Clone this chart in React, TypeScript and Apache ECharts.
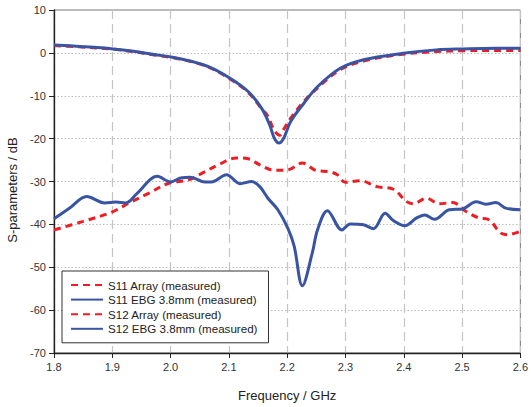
import React, { useEffect, useRef } from "react";
import * as echarts from "echarts";

// Frequency sweep (GHz) and measured levels (dB) for each trace
const s11ArrayFreq = [1.8, 1.844, 1.901, 1.94, 1.972, 2.003, 2.031, 2.065, 2.102, 2.133, 2.156, 2.166, 2.178, 2.187, 2.195, 2.206, 2.229, 2.252, 2.291, 2.331, 2.399, 2.456, 2.501, 2.558, 2.6];
const s11ArrayDb = [1.7, 1.4, 0.85, 0.2, -0.5, -1.1, -1.9, -3.3, -6.1, -9.2, -13.0, -14.6, -18.1, -19.2, -17.6, -15.2, -11.3, -8.2, -3.9, -1.9, -0.3, 0.3, 0.5, 0.55, 0.55];

const s11EbgFreq = [1.8, 1.844, 1.901, 1.94, 1.972, 2.003, 2.031, 2.065, 2.102, 2.133, 2.156, 2.17, 2.178, 2.186, 2.194, 2.206, 2.229, 2.252, 2.291, 2.331, 2.399, 2.456, 2.501, 2.558, 2.6];
const s11EbgDb = [1.85, 1.5, 0.93, 0.3, -0.4, -1.0, -1.8, -3.2, -5.9, -9.0, -12.9, -16.8, -19.9, -21.0, -19.9, -16.0, -11.7, -7.9, -3.6, -1.6, -0.1, 0.7, 0.93, 1.1, 1.1];

const s12ArrayFreq = [1.8, 1.85, 1.898, 1.929, 1.963, 1.997, 2.031, 2.059, 2.082, 2.113, 2.133, 2.153, 2.178, 2.201, 2.226, 2.249, 2.272, 2.286, 2.3, 2.325, 2.354, 2.382, 2.405, 2.416, 2.439, 2.461, 2.484, 2.507, 2.529, 2.546, 2.566, 2.578, 2.6];
const s12ArrayDb = [-41.3, -39.3, -37.2, -35.0, -32.7, -30.4, -29.6, -27.7, -26.1, -24.5, -24.7, -26.1, -27.4, -27.3, -25.7, -27.4, -27.7, -28.4, -30.2, -29.8, -31.2, -31.8, -34.7, -35.2, -33.9, -35.2, -34.9, -37.0, -38.5, -38.9, -42.0, -42.4, -41.6];

const s12EbgFreq = [1.8, 1.827, 1.856, 1.887, 1.906, 1.923, 1.943, 1.977, 2.0, 2.017, 2.034, 2.059, 2.07, 2.096, 2.119, 2.139, 2.153, 2.167, 2.184, 2.201, 2.212, 2.226, 2.243, 2.252, 2.269, 2.294, 2.308, 2.331, 2.348, 2.368, 2.382, 2.402, 2.422, 2.436, 2.453, 2.478, 2.501, 2.524, 2.541, 2.558, 2.575, 2.6];
const s12EbgDb = [-38.7, -36.2, -33.5, -35.0, -34.8, -35.0, -32.7, -28.8, -30.1, -29.2, -29.0, -30.1, -30.1, -28.4, -30.5, -30.0, -31.2, -33.9, -36.6, -40.9, -45.1, -54.3, -46.7, -41.3, -36.8, -41.3, -39.9, -40.1, -41.0, -37.4, -39.1, -40.3, -38.5, -37.8, -38.8, -36.6, -36.4, -34.7, -35.3, -34.9, -36.2, -36.6];

const legendNames = [
  "S11 Array (measured)",
  "S11 EBG 3.8mm (measured)",
  "S12 Array (measured)",
  "S12 EBG 3.8mm (measured)",
];

const RED = "#EE1D24";
const BLUE = "#3A54A4";
const FONT = "Liberation Sans, Arial, sans-serif";

const zip = (xs: number[], ys: number[]) => xs.map((x, i) => [x, ys[i]]);

export default function App() {
  const ref = useRef<HTMLDivElement>(null);

  useEffect(() => {
    document.body.style.margin = "0";
    if (!ref.current) return;
    const chart = echarts.init(ref.current, undefined, { renderer: "svg" });

    const line = (name: string, data: number[][], color: string, dashed: boolean) => ({
      name,
      type: "line",
      data,
      smooth: 0.35,
      showSymbol: false,
      symbol: "none",
      lineStyle: { color, width: 3, type: dashed ? [7, 5] : "solid" },
      itemStyle: { color },
    });

    chart.setOption({
      animation: false,
      textStyle: { fontFamily: FONT },
      grid: {
        left: 54,
        right: 6,
        top: 10,
        bottom: 54,
        show: true,
        borderColor: "#777",
        borderWidth: 1,
      },
      xAxis: {
        type: "value",
        min: 1.8,
        max: 2.6,
        interval: 0.1,
        name: "Frequency / GHz",
        nameLocation: "middle",
        nameGap: 36,
        nameTextStyle: { fontSize: 13, color: "#222", fontFamily: FONT },
        axisLine: { show: true, onZero: false, lineStyle: { color: "#222", width: 1.3 } },
        axisTick: { show: true, inside: false, length: 5, lineStyle: { color: "#222" } },
        axisLabel: {
          fontSize: 11,
          color: "#333",
          margin: 8,
          formatter: (v: number) => v.toFixed(1),
        },
        splitLine: {
          show: true,
          lineStyle: { color: "#C4C4C4", width: 1.2, type: [9, 5] },
        },
      },
      yAxis: {
        type: "value",
        min: -70,
        max: 10,
        interval: 10,
        axisLine: { show: true, onZero: false, lineStyle: { color: "#222", width: 1.3 } },
        axisTick: { show: true, inside: false, length: 5, lineStyle: { color: "#222" } },
        axisLabel: { fontSize: 11, color: "#333", margin: 8 },
        splitLine: {
          show: true,
          lineStyle: { color: "#BDBDBD", width: 1, type: [1.5, 2] },
        },
      },
      legend: {
        orient: "vertical",
        left: 62,
        top: 271,
        data: legendNames,
        backgroundColor: "#fff",
        borderColor: "#333",
        borderWidth: 1,
        padding: [7, 11, 7, 8],
        itemWidth: 32,
        itemHeight: 14,
        itemGap: 0.6,
        itemStyle: { color: "transparent", borderWidth: 0, opacity: 0 },
        textStyle: { fontSize: 11.6, color: "#222", fontFamily: FONT, lineHeight: 14 },
      },
      graphic: [
        {
          type: "text",
          x: 12,
          y: 190,
          rotation: Math.PI / 2,
          style: {
            text: "S-parameters / dB",
            fontSize: 13,
            fill: "#222",
            fontFamily: FONT,
            align: "center",
            verticalAlign: "middle",
          },
        },
      ],
      series: [
        line(legendNames[0], zip(s11ArrayFreq, s11ArrayDb), RED, true),
        line(legendNames[1], zip(s11EbgFreq, s11EbgDb), BLUE, false),
        line(legendNames[2], zip(s12ArrayFreq, s12ArrayDb), RED, true),
        line(legendNames[3], zip(s12EbgFreq, s12EbgDb), BLUE, false),
      ],
    });

    return () => chart.dispose();
  }, []);

  return <div ref={ref} style={{ width: 531, height: 407 }} />;
}
